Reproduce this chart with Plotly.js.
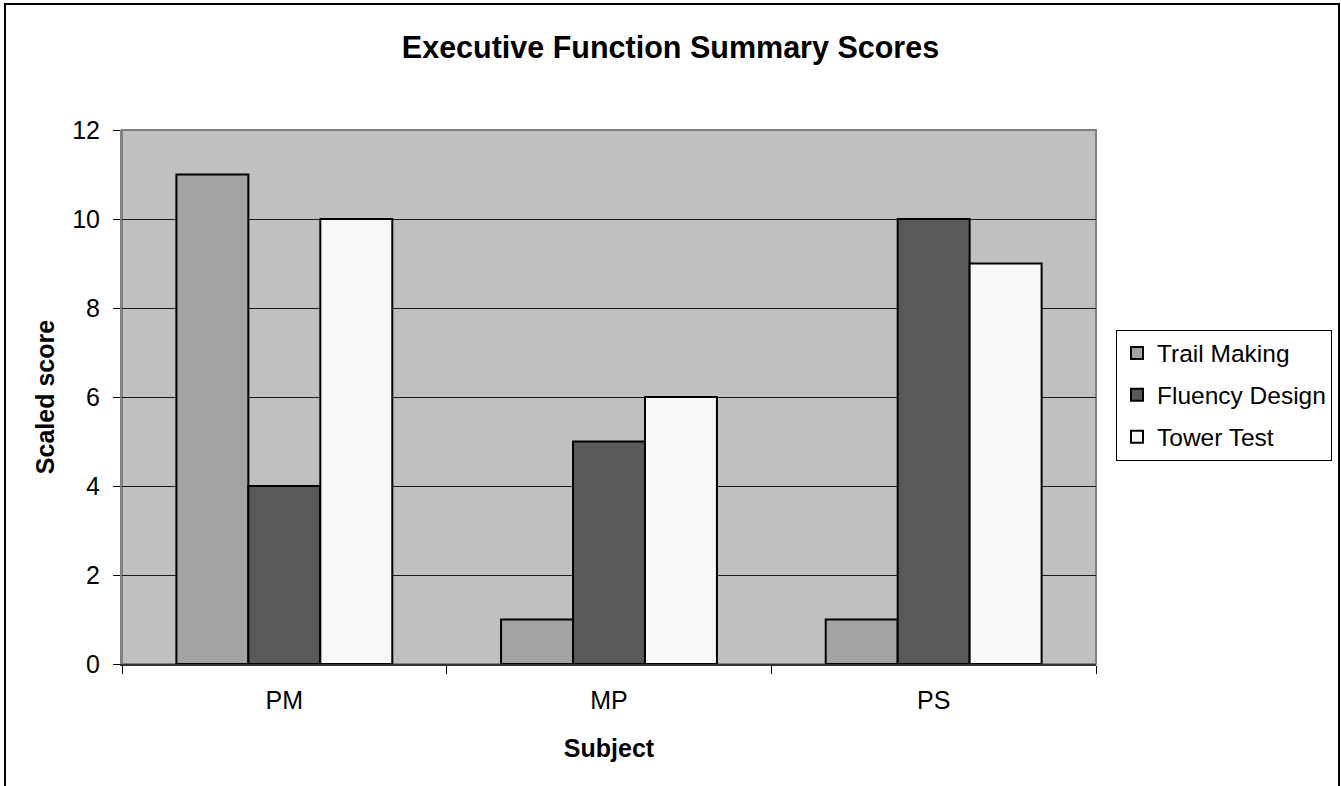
<!DOCTYPE html>
<html>
<head>
<meta charset="utf-8">
<script src="https://cdn.plot.ly/plotly-3.0.1.min.js"></script>
<style>
  html, body { margin: 0; padding: 0; background: #ffffff; }
  #chart { width: 1341px; height: 786px; }
</style>
</head>
<body>
<div id="chart"></div>
<script>
const subjects = ["PM", "MP", "PS"];
const trailMaking = [11, 1, 1];
const fluencyDesign = [4, 5, 10];
const towerTest = [10, 6, 9];
const seriesNames = ["Trail Making", "Fluency Design", "Tower Test"];
const seriesColors = ["#a3a3a3", "#595959", "#f8f8f8"];
const yTicks = [0, 2, 4, 6, 8, 10, 12];

const seriesValues = [trailMaking, fluencyDesign, towerTest];
const traces = seriesValues.map((vals, i) => ({
  type: "bar",
  name: seriesNames[i],
  x: subjects,
  y: vals,
  legendgroup: "g" + i,
  marker: { color: seriesColors[i], line: { color: "#000000", width: 2 } },
  hoverinfo: "none"
}));

const FONT = "Liberation Sans, Arial, sans-serif";

const layout = {
  width: 1341,
  height: 786,
  paper_bgcolor: "#ffffff",
  plot_bgcolor: "#c0c0c0",
  margin: { l: 122, r: 245, t: 130, b: 122, autoexpand: false },
  font: { family: FONT, color: "#000000", size: 25 },
  title: {
    text: "<b>Executive Function Summary Scores</b>",
    font: { size: 30.5, family: FONT, color: "#000" },
    x: 0.5, xref: "container", xanchor: "center",
    y: 1 - 47 / 786, yref: "container", yanchor: "middle"
  },
  barmode: "group",
  bargap: 0.335,
  bargroupgap: 0,
  showlegend: true,
  legend: {
    xref: "container", yref: "container",
    x: 1116 / 1341, xanchor: "left",
    y: 1 - 395 / 786, yanchor: "middle",
    bgcolor: "#ffffff",
    bordercolor: "#000000",
    borderwidth: 1,
    font: { size: 24.5, family: FONT },
    traceorder: "grouped",
    tracegroupgap: 7,
    itemwidth: 30
  },
  xaxis: {
    type: "category",
    automargin: false,
    tickson: "boundaries",
    ticks: "outside",
    ticklen: 8,
    tickcolor: "#000",
    tickwidth: 1,
    showline: true,
    linecolor: "#333333",
    linewidth: 2,
    showgrid: false,
    tickfont: { size: 25 },
    ticklabelstandoff: 13,
    title: { text: "<b>Subject</b>", font: { size: 25 }, standoff: 26 }
  },
  yaxis: {
    range: [0, 12],
    automargin: false,
    tickvals: yTicks,
    ticktext: yTicks.map(String),
    ticks: "outside",
    ticklen: 7,
    tickcolor: "#000",
    showline: true,
    linecolor: "#808080",
    linewidth: 2,
    showgrid: true,
    gridcolor: "#1a1a1a",
    gridwidth: 1,
    zeroline: false,
    tickfont: { size: 25 },
    ticklabelstandoff: 8,
    title: { text: "<b>Scaled score</b>", font: { size: 25 }, standoff: 10 }
  },
  shapes: [
    {
      type: "rect", xref: "paper", yref: "paper",
      x0: 0, x1: 1, y0: 0, y1: 1,
      line: { color: "#808080", width: 2 }, layer: "below"
    },
    {
      type: "rect", xref: "paper", yref: "paper",
      x0: (5 - 122) / 974, x1: (1339 - 122) / 974,
      y0: (664 - 800) / 534, y1: (664 - 4) / 534,
      line: { color: "#000000", width: 2 }, layer: "above"
    }
  ]
};

Plotly.newPlot("chart", traces, layout, { displayModeBar: false, staticPlot: true });
</script>
</body>
</html>
